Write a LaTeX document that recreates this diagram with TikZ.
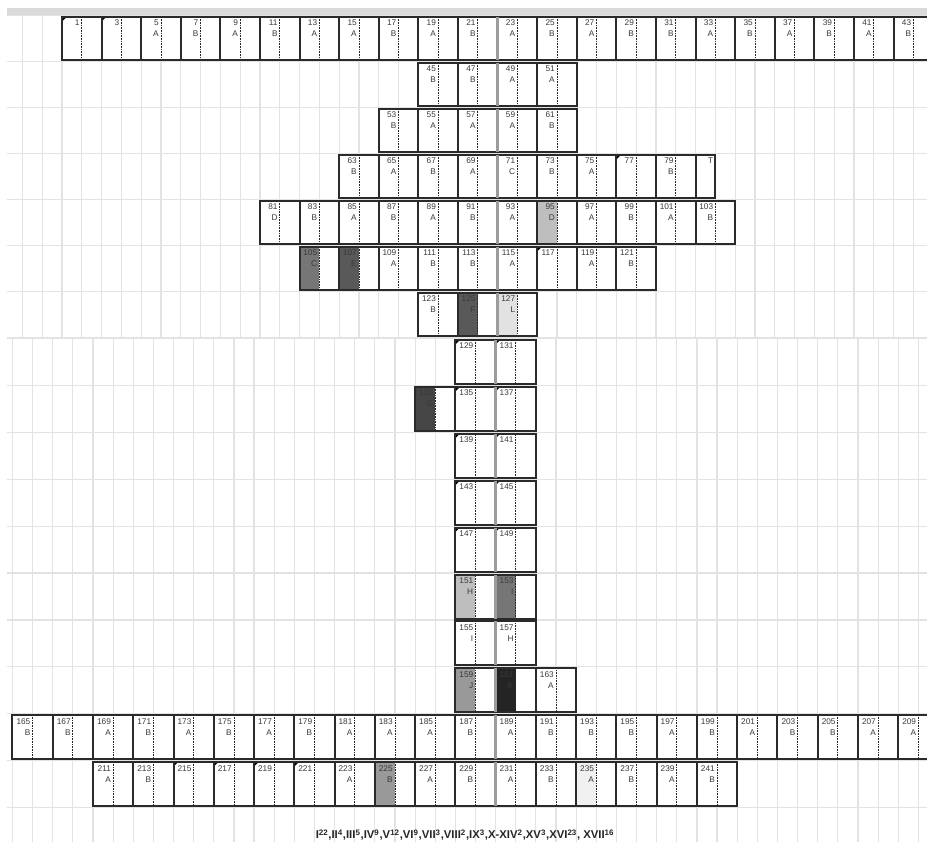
\documentclass[tikz,border=0pt]{standalone}
\usepackage{fontspec}
\setmainfont{Liberation Sans}
\usepackage{xcolor}
\definecolor{FrameInk}{HTML}{2A2A2A}
\definecolor{TagInk}{HTML}{3A3A3A}
\definecolor{GridGray}{HTML}{E3E3E3}
\definecolor{BarGray}{HTML}{DADADA}
\definecolor{FreezeGray}{HTML}{9C9C9C}
\definecolor{PaleShade}{HTML}{F0F0F0}
\definecolor{LiteShade}{HTML}{E2E2E2}
\definecolor{SilverShade}{HTML}{BEBEBE}
\definecolor{MidShade}{HTML}{999999}
\definecolor{SteelShade}{HTML}{767676}
\definecolor{DeepShade}{HTML}{595959}
\definecolor{DarkShade}{HTML}{454545}
\definecolor{InkShade}{HTML}{242424}

% one row of cells: top y, left x, cell width, cell height, list num/letter/shade
\newcommand{\cellrow}[5]{%
  \foreach \n/\l/\s [count=\i from 0] in {#5}{
    \node[cellbox, minimum width=#3*0.75pt, minimum height=#4*0.75pt] (b\n) at (#2+\i*#3,#1) {};
    \fill[fill=\s] (b\n.north west) rectangle (b\n.south);
    \draw[midline] (b\n.north) -- (b\n.south);
    \node[celltag] (n\n) at ([xshift=-1.5pt,yshift=-2.2pt]b\n.north) {\n\\\l};
    \ifx\l\empty \fill[cornermark] (b\n.north west) -- ++(4.5,0) -- ++(-4.5,4.5) -- cycle; \fi
    \draw[cellframe] (b\n.north west) rectangle (b\n.south east);
  }%
}

\begin{document}
\begin{tikzpicture}[x=0.75pt, y=-0.75pt,
    cellbox/.style={rectangle, fill=white, inner sep=0pt, outer sep=0pt, anchor=north west},
    celltag/.style={font=\fontsize{6.2}{8.2}\selectfont, text=TagInk, align=right, inner sep=0pt, anchor=north east},
    cellframe/.style={draw=FrameInk, line width=1.5pt},
    midline/.style={draw=black!85, line width=0.6pt, dash pattern=on 0.6pt off 0.6pt},
    freeze/.style={draw=FreezeGray, line width=1.9pt},
    cornermark/.style={fill=black},
    gridline/.style={draw=GridGray, line width=0.9pt},
    tally/.style={font=\fontsize{8.5}{10}\selectfont\bfseries, text=black!85}]
  \clip (0,0) rectangle (927,842);
  \fill[white] (0,0) rectangle (927,842);
  % sheet grid
  \fill[BarGray] (7,8) rectangle (927,15);
  \foreach \k in {1,...,47} \draw[gridline] (2.6+\k*19.8,15) -- (2.6+\k*19.8,338);
  \foreach \r in {0,...,7} \draw[gridline] (7,15.5+\r*46) -- (927,15.5+\r*46);
  \foreach \k in {0,...,46} \draw[gridline] (12.5+\k*20.13,338) -- (12.5+\k*20.13,842);
  \foreach \r in {0,...,10} \draw[gridline] (7,338.5+\r*46.9) -- (927,338.5+\r*46.9);

  % upper rows
  \cellrow{17}{62}{39.6}{43}{1//white, 3//white, 5/A/white, 7/B/white, 9/A/white, 11/B/white, 13/A/white, 15/A/white, 17/B/white, 19/A/white, 21/B/white, 23/A/white, 25/B/white, 27/A/white, 29/B/white, 31/B/white, 33/A/white, 35/B/white, 37/A/white, 39/B/white, 41/A/white, 43/B/white}
  \cellrow{63}{62+9*39.6}{39.6}{43}{45/B/white, 47/B/white, 49/A/white, 51/A/white}
  \cellrow{109}{62+8*39.6}{39.6}{43}{53/B/white, 55/A/white, 57/A/white, 59/A/white, 61/B/white}
  \cellrow{155}{62+7*39.6}{39.6}{43}{63/B/white, 65/A/white, 67/B/white, 69/A/white, 71/C/white, 73/B/white, 75/A/white, 77//white, 79/B/white}
  \node[cellbox, minimum width=19.8*0.75pt, minimum height=43*0.75pt] (bT) at (62+16*39.6,155) {};
  \node[celltag] (nT) at ([xshift=-1.5pt,yshift=-2.2pt]bT.north east) {T};
  \draw[cellframe] (bT.north west) rectangle (bT.south east);
  \cellrow{201}{62+5*39.6}{39.6}{43}{81/D/white, 83/B/white, 85/A/white, 87/B/white, 89/A/white, 91/B/white, 93/A/white, 95/D/SilverShade, 97/A/white, 99/B/white, 101/A/white, 103/B/white}
  \cellrow{247}{62+6*39.6}{39.6}{43}{105/C/SteelShade, 107/E/DeepShade, 109/A/white, 111/B/white, 113/B/white, 115/A/white, 117//white, 119/A/white, 121/B/white}
  \cellrow{293}{62+9*39.6}{39.6}{43}{123/B/white, 125/F/DeepShade, 127/L/LiteShade}

  % lower rows
  \cellrow{340}{52.74+10*40.26}{40.26}{44}{129//white, 131//white}
  \cellrow{386.9}{52.74+9*40.26}{40.26}{44}{133/G/DarkShade, 135//white, 137//white}
  \cellrow{433.8}{52.74+10*40.26}{40.26}{44}{139//white, 141//white}
  \cellrow{480.7}{52.74+10*40.26}{40.26}{44}{143//white, 145//white}
  \cellrow{527.6}{52.74+10*40.26}{40.26}{44}{147//white, 149//white}
  \cellrow{574.5}{52.74+10*40.26}{40.26}{44}{151/H/SilverShade, 153/I/SteelShade}
  \cellrow{621.4}{52.74+10*40.26}{40.26}{44}{155/I/white, 157/H/white}
  \cellrow{668.3}{52.74+10*40.26}{40.26}{44}{159/J/MidShade, 161/K/InkShade, 163/A/white}
  \cellrow{715.2}{52.74-40.26}{40.26}{44}{165/B/white, 167/B/white, 169/A/white, 171/B/white, 173/A/white, 175/B/white, 177/A/white, 179/B/white, 181/A/white, 183/A/white, 185/A/white, 187/B/white, 189/A/white, 191/B/white, 193/B/white, 195/B/white, 197/A/white, 199/B/white, 201/A/white, 203/B/white, 205/B/white, 207/A/white, 209/A/white}
  \cellrow{762.1}{52.74+40.26}{40.26}{44}{211/A/white, 213/B/white, 215//white, 217//white, 219//white, 221//white, 223/A/white, 225/B/MidShade, 227/A/white, 229/B/white, 231/A/white, 233/B/white, 235/A/PaleShade, 237/B/white, 239/A/white, 241/B/white}

  % frozen column edge
  \foreach \n in {23,49,59,71,93,115,127,131,137,141,145,149,153,157,161,189,231}
    \draw[freeze] (b\n.north west) -- (b\n.south west);

  \node[tally] (tally) at (465,835) {I\textsuperscript{22},II\textsuperscript{4},III\textsuperscript{5},IV\textsuperscript{9},V\textsuperscript{12},VI\textsuperscript{9},VII\textsuperscript{3},VIII\textsuperscript{2},IX\textsuperscript{3},X-XIV\textsuperscript{2},XV\textsuperscript{3},XVI\textsuperscript{23}, XVII\textsuperscript{16}};
\end{tikzpicture}
\end{document}
